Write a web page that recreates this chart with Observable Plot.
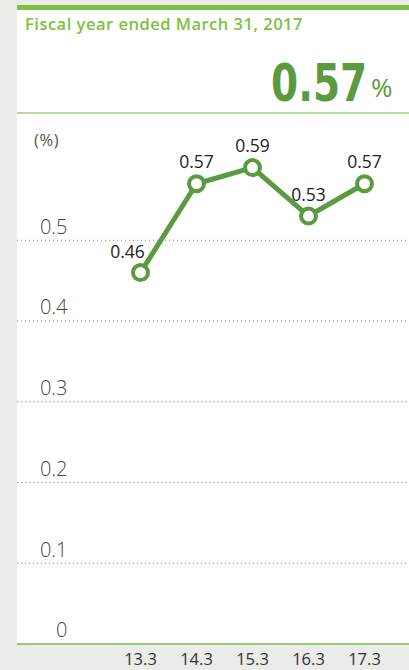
<!DOCTYPE html>
<html>
<head>
<meta charset="utf-8">
<script src="https://cdn.jsdelivr.net/npm/d3@7"></script>
<script src="https://cdn.jsdelivr.net/npm/@observablehq/plot@0.6"></script>
<style>
  html, body { margin: 0; padding: 0; }
  body { width: 409px; height: 670px; background: #ebecea; position: relative; overflow: hidden; font-family: "Open Sans", "Noto Sans", sans-serif; }
  #bar { position: absolute; left: 17px; top: 5px; width: 392px; height: 5px; background: #7cc142; }
  #panel { position: absolute; left: 17px; top: 10px; width: 392px; height: 633px; background: #ffffff; }
  #title { position: absolute; left: 25px; top: 14px; font-size: 16.5px; line-height: 20px; letter-spacing: 0.5px; font-weight: 600; color: #7cc142; white-space: nowrap; }
  #num { position: absolute; left: 271px; top: 57px; line-height: 52px; font-family: "DejaVu Sans"; font-weight: bold; font-size: 52px; color: #5c9a41; transform: scaleX(0.75); transform-origin: left center; white-space: nowrap; }
  #pct { position: absolute; left: 371px; top: 74px; line-height: 26px; font-size: 26px; font-weight: 400; color: #5c9a41; }
  #sep { position: absolute; left: 17px; top: 112px; width: 392px; height: 2px; background: #b6dc98; }
  #unit { position: absolute; left: 34px; top: 129px; font-size: 16.5px; line-height: 22px; letter-spacing: 0.6px; color: #555; }
  #chart { position: absolute; left: 0; top: 113px; }
</style>
</head>
<body>
<div id="bar"></div>
<div id="panel"></div>
<div id="title">Fiscal year ended March 31, 2017</div>
<div id="num">0.57</div>
<div id="pct">%</div>
<div id="sep"></div>
<div id="unit">(%)</div>
<div id="chart"></div>
<script>
const years = ["13.3", "14.3", "15.3", "16.3", "17.3"];
const ratios = [0.46, 0.57, 0.59, 0.53, 0.57];
const yTicks = [0, 0.1, 0.2, 0.3, 0.4, 0.5];

const data = years.map((year, i) => ({year, value: ratios[i]}));
const green = "#5c9a41";

const chart = Plot.plot({
  width: 409,
  height: 557,
  marginLeft: 17,
  marginRight: 0,
  marginTop: 46,
  marginBottom: 26.5,
  style: {fontFamily: "Open Sans, Noto Sans, sans-serif", background: "transparent", overflow: "visible"},
  x: {type: "point", domain: years, range: [139, 365], padding: 0, label: null},
  y: {domain: [0, 0.6], label: null},
  marks: [
    Plot.ruleY(yTicks.filter(d => d > 0), {stroke: "#8a8a8a", strokeWidth: 1, strokeDasharray: "1.2,2.8"}),
    Plot.ruleY([0], {stroke: "#7dbd4e", strokeWidth: 1.5}),
    Plot.axisY({ticks: yTicks, tickSize: 0, tickPadding: 0, dx: 50, dy: -13, textAnchor: "end", fontSize: 20, fontWeight: 300, fill: "#444", tickFormat: d => String(d), label: null}),
    Plot.axisX({tickSize: 0, tickPadding: 9, fontSize: 16.5, fill: "#333", label: null}),
    Plot.line(data, {x: "year", y: "value", stroke: green, strokeWidth: 5}),
    Plot.dot(data, {x: "year", y: "value", r: 7.5, fill: "white", stroke: green, strokeWidth: 4}),
    Plot.text(data.slice(1), {x: "year", y: "value", text: d => d.value.toFixed(2), dy: -21, fontSize: 17.5, fill: "#222"}),
    Plot.text(data.slice(0, 1), {x: "year", y: "value", text: d => d.value.toFixed(2), dx: -13, dy: -20, fontSize: 17.5, fill: "#222"})
  ]
});
document.getElementById("chart").appendChild(chart);
</script>
</body>
</html>
